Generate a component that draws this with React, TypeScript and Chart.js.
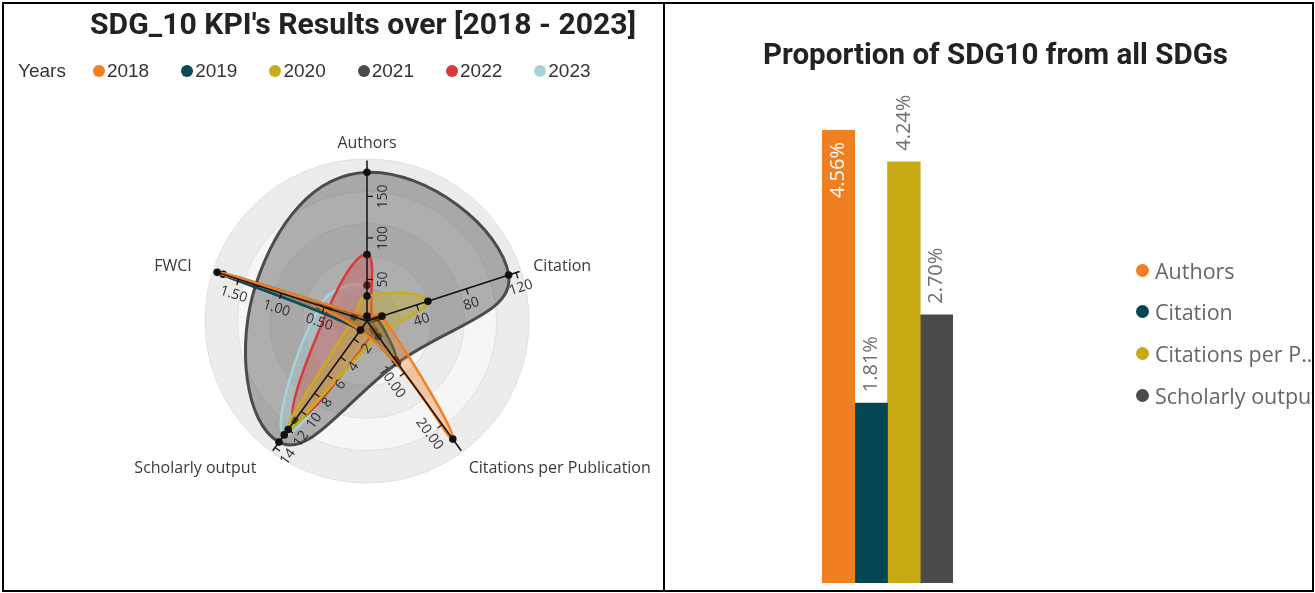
import React, { useEffect, useRef } from 'react';
import { Chart, registerables } from 'chart.js';

Chart.register(...registerables);

// ---------- Radar (left panel) data ----------
const AXES = ['Authors', 'Citation', 'Citations per Publication', 'Scholarly output', 'FWCI'];
const AXIS_MAX = [195, 124, 25.3, 14.5, 1.8];
const AXIS_TICKS = [
  [50, 100, 150],
  [40, 80, 120],
  [10, 20],
  [2, 4, 6, 8, 10, 12, 14],
  [0.5, 1, 1.5],
];
const AXIS_DECIMALS = [0, 0, 2, 0, 2];

const YEARS = ['2018', '2019', '2020', '2021', '2022', '2023'];
const YEAR_COLORS = ['#F07F22', '#0C4A56', '#C8AE19', '#4B4B4B', '#D8393A', '#A6D3DA'];
const KPI_2018 = [6, 12, 22.8, 1, 1.75];
const KPI_2019 = [5, 8, 7.5, 1, 1.68];
const KPI_2020 = [30, 49, 3, 12, 0.15];
const KPI_2021 = [179, 114, 8.1, 13.4, 1.3];
const KPI_2022 = [80, 4, 2, 11, 0.45];
const KPI_2023 = [43, 3, 1.5, 12.6, 0.55];
const KPI_SERIES = [KPI_2018, KPI_2019, KPI_2020, KPI_2021, KPI_2022, KPI_2023];

// ---------- Bar (right panel) data ----------
const SHARE_LABELS = ['Authors', 'Citation', 'Citations per Publication', 'Scholarly output'];
const SHARE_VALUES = [4.56, 1.81, 4.24, 2.7];
const SHARE_COLORS = ['#F07F22', '#044653', '#C9A914', '#4A4B4D'];

const LEFT_TITLE = "SDG_10 KPI's Results over [2018 - 2023]";
const RIGHT_TITLE = 'Proportion of SDG10 from all SDGs';
const LEGEND_TITLE = 'Years';

function hexA(hex: string, a: number) {
  const h = hex.replace('#', '');
  const r = parseInt(h.slice(0, 2), 16);
  const g = parseInt(h.slice(2, 4), 16);
  const b = parseInt(h.slice(4, 6), 16);
  return `rgba(${r},${g},${b},${a})`;
}

function measure(text: string, font: string) {
  const c = document.createElement('canvas').getContext('2d') as CanvasRenderingContext2D;
  c.font = font;
  return c.measureText(text).width;
}

function FitTitle(props: { text: string; left: number; right: number; baseline: number; size: number }) {
  const { text, left, right, baseline, size } = props;
  const w = measure(text, `700 ${size}px Roboto`);
  const sx = (right - left) / w;
  return (
    <div
      style={{
        position: 'absolute',
        left,
        top: baseline - 0.842 * size,
        fontFamily: 'Roboto',
        fontWeight: 700,
        fontSize: size,
        lineHeight: `${size}px`,
        height: size,
        whiteSpace: 'nowrap',
        color: '#222',
        transform: `scaleX(${sx})`,
        transformOrigin: '0 0',
      }}
    >
      {text}
    </div>
  );
}

const RING_COUNT = 5;

const radarPlugin = {
  id: 'radarAxes',
  beforeDraw(chart: any) {
    const s = chart.scales.r;
    const ctx = chart.ctx as CanvasRenderingContext2D;
    ctx.save();
    for (let k = RING_COUNT; k >= 1; k--) {
      ctx.beginPath();
      ctx.arc(s.xCenter, s.yCenter, (s.drawingArea * k) / RING_COUNT, 0, Math.PI * 2);
      ctx.fillStyle = k % 2 === 1 ? '#ececec' : '#f6f6f6';
      ctx.fill();
    }
    ctx.restore();
  },
  afterDatasetsDraw(chart: any) {
    const s = chart.scales.r;
    const ctx = chart.ctx as CanvasRenderingContext2D;
    const axisLen = s.drawingArea * 0.99;
    ctx.save();
    AXES.forEach((name, i) => {
      const end = s.getPointPosition(i, axisLen);
      ctx.strokeStyle = '#111';
      ctx.lineWidth = 1.5;
      ctx.beginPath();
      ctx.moveTo(s.xCenter, s.yCenter);
      ctx.lineTo(end.x, end.y);
      ctx.stroke();

      const a = s.getIndexAngle(i) - Math.PI / 2;
      let th = a;
      while (th >= Math.PI / 2) th -= Math.PI;
      while (th < -Math.PI / 2) th += Math.PI;
      const nx = -Math.sin(th);
      const ny = Math.cos(th);

      AXIS_TICKS[i].forEach((t) => {
        const r = s.getDistanceFromCenterForValue(t / AXIS_MAX[i]);
        const p = s.getPointPosition(i, r);
        ctx.strokeStyle = '#111';
        ctx.lineWidth = 1.2;
        ctx.beginPath();
        ctx.moveTo(p.x, p.y);
        ctx.lineTo(p.x + nx * 6, p.y + ny * 6);
        ctx.stroke();
        ctx.save();
        ctx.translate(p.x + nx * 16, p.y + ny * 16);
        ctx.rotate(th);
        ctx.font = '14px "Open Sans"';
        ctx.fillStyle = '#2e2e2e';
        ctx.textAlign = 'center';
        ctx.textBaseline = 'middle';
        ctx.fillText(t.toFixed(AXIS_DECIMALS[i]), 0, 0);
        ctx.restore();
      });

      const lp = s.getPointPosition(i, s.drawingArea + 16);
      ctx.font = '16px "Open Sans"';
      ctx.fillStyle = '#3a3a3a';
      ctx.textBaseline = 'middle';
      let x = lp.x;
      let y = lp.y;
      if (Math.abs(lp.x - s.xCenter) < 5) {
        ctx.textAlign = 'center';
      } else if (lp.x > s.xCenter) {
        ctx.textAlign = 'left';
        x -= 3;
      } else {
        ctx.textAlign = 'right';
        x -= 6;
      }
      if (lp.y > s.yCenter + 20) y += 3;
      ctx.fillText(name, x, y);
    });
    ctx.restore();
  },
};

const barLabelPlugin = {
  id: 'barLabels',
  afterDatasetsDraw(chart: any) {
    const ctx = chart.ctx as CanvasRenderingContext2D;
    const maxV = Math.max(...SHARE_VALUES);
    chart.data.datasets.forEach((ds: any, i: number) => {
      const bar = chart.getDatasetMeta(i).data[0];
      const v = ds.data[0] as number;
      const text = v.toFixed(2) + '%';
      ctx.save();
      ctx.font = '20px "Open Sans"';
      ctx.textBaseline = 'middle';
      ctx.translate(bar.x, bar.y);
      ctx.rotate(-Math.PI / 2);
      if (v === maxV) {
        ctx.fillStyle = '#ffffff';
        ctx.textAlign = 'right';
        ctx.fillText(text, -12, 0);
      } else {
        ctx.fillStyle = '#707070';
        ctx.textAlign = 'left';
        ctx.fillText(text, 11, 0);
      }
      ctx.restore();
    });
  },
};

function legendName(n: string) {
  return n.length > 18 ? n.slice(0, 15) + '...' : n;
}

export default function App() {
  const radarRef = useRef<HTMLCanvasElement>(null);
  const barRef = useRef<HTMLCanvasElement>(null);

  useEffect(() => {
    const radar = new Chart(radarRef.current as HTMLCanvasElement, {
      type: 'radar',
      data: {
        labels: AXES,
        datasets: YEARS.map((y, k) => ({
          label: y,
          data: KPI_SERIES[k].map((v, i) => v / AXIS_MAX[i]),
          borderColor: YEAR_COLORS[k],
          backgroundColor: hexA(YEAR_COLORS[k], k === 3 ? 0.42 : 0.35),
          borderWidth: k === 3 ? 3 : 2.5,
          fill: true,
          tension: 0.45,
          pointRadius: 3.8,
          pointBackgroundColor: '#111',
          pointBorderWidth: 0,
          order: k === 3 ? 10 : 0,
        })),
      },
      options: {
        responsive: false,
        animation: false,
        layout: { padding: { left: 205, top: 159, right: 133, bottom: 109 } },
        plugins: { legend: { display: false }, tooltip: { enabled: false }, title: { display: false } },
        scales: {
          r: {
            min: 0,
            max: 1,
            ticks: { display: false, stepSize: 1 / RING_COUNT },
            grid: { circular: true, color: '#e0e0e0' },
            angleLines: { display: false },
            pointLabels: { display: false },
          },
        },
      } as any,
      plugins: [radarPlugin],
    });

    const bar = new Chart(barRef.current as HTMLCanvasElement, {
      type: 'bar',
      data: {
        labels: [''],
        datasets: SHARE_LABELS.map((l, i) => ({
          label: l,
          data: [SHARE_VALUES[i]],
          backgroundColor: SHARE_COLORS[i],
          categoryPercentage: 1,
          barPercentage: 1,
        })),
      },
      options: {
        responsive: false,
        animation: false,
        layout: { padding: { left: 156, right: 359, top: 126, bottom: 6 } },
        scales: {
          x: { display: false },
          y: { display: false, min: 0, max: Math.max(...SHARE_VALUES) },
        },
        plugins: { legend: { display: false }, tooltip: { enabled: false } },
      } as any,
      plugins: [barLabelPlugin],
    });

    return () => {
      radar.destroy();
      bar.destroy();
    };
  }, []);

  return (
    <div style={{ position: 'absolute', left: 0, top: 0, width: 1315, height: 593, background: '#fff', overflow: 'hidden' }}>
      <canvas ref={radarRef} width={662} height={592} style={{ position: 'absolute', left: 0, top: 0 }} />
      <canvas ref={barRef} width={646} height={585} style={{ position: 'absolute', left: 666, top: 4 }} />

      <FitTitle text={LEFT_TITLE} left={90} right={636} baseline={34} size={30} />
      <FitTitle text={RIGHT_TITLE} left={763} right={1228} baseline={64} size={30} />

      <div
        style={{
          position: 'absolute',
          left: 18,
          top: 60,
          height: 22,
          display: 'flex',
          alignItems: 'center',
          fontFamily: '"Liberation Sans", Arial',
          fontSize: 19,
          lineHeight: '22px',
          color: '#333',
          whiteSpace: 'nowrap',
        }}
      >
        <span style={{ marginRight: 27 }}>{LEGEND_TITLE}</span>
        {YEARS.map((y, k) => (
          <span key={y} style={{ display: 'flex', alignItems: 'center', marginRight: k < YEARS.length - 1 ? 32 : 0 }}>
            <span style={{ width: 12, height: 12, borderRadius: 6, background: YEAR_COLORS[k], marginRight: 2, display: 'inline-block' }} />
            <span>{y}</span>
          </span>
        ))}
      </div>

      <div style={{ position: 'absolute', left: 1134, top: 256, width: 178, height: 160, overflow: 'hidden' }}>
        {SHARE_LABELS.map((l, i) => (
          <div
            key={l}
            style={{
              position: 'absolute',
              left: 0,
              top: i * 41.7,
              height: 28,
              display: 'flex',
              alignItems: 'center',
              whiteSpace: 'nowrap',
              fontFamily: '"Open Sans"',
              fontSize: 21.5,
              color: '#666',
            }}
          >
            <span style={{ width: 13, height: 13, borderRadius: 7, background: SHARE_COLORS[i], display: 'inline-block', marginLeft: 2, marginRight: 6 }} />
            <span>{legendName(l)}</span>
          </div>
        ))}
      </div>

      <div style={{ position: 'absolute', left: 2, top: 2, width: 663, height: 590, border: '2px solid #000', boxSizing: 'border-box' }} />
      <div style={{ position: 'absolute', left: 663, top: 2, width: 651, height: 590, border: '2px solid #000', boxSizing: 'border-box' }} />
    </div>
  );
}
